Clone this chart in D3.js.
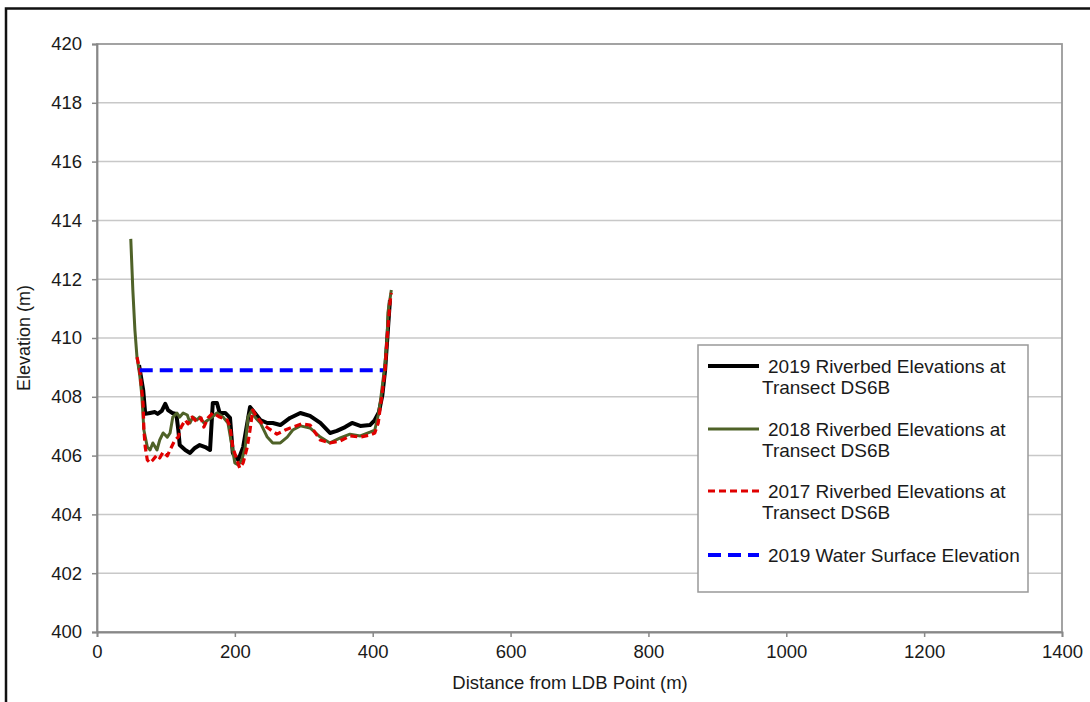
<!DOCTYPE html>
<html>
<head>
<meta charset="utf-8">
<script src="https://cdn.jsdelivr.net/npm/d3@7"></script>
<style>
  html, body { margin: 0; padding: 0; background: #fff; }
  svg { display: block; font-family: "Liberation Sans", Arial, sans-serif; }
</style>
</head>
<body>
<svg id="chart" width="1090" height="702"></svg>
<script>
// Distance from LDB point (m) and riverbed elevation (m) along transect DS6B
const dist2019 = [61, 67, 70, 77, 84, 88, 94, 99, 103, 109, 115, 118, 120, 128, 135, 142, 149, 157, 164, 168, 174, 178, 186, 193, 197, 205, 212, 222, 229, 237, 247, 255, 266, 280, 295, 309, 324, 338, 348, 360, 370, 382, 396, 403, 409, 414, 418, 422, 425];
const elev2019 = [409.08, 408.23, 407.42, 407.45, 407.48, 407.42, 407.52, 407.76, 407.55, 407.45, 407.42, 406.87, 406.36, 406.19, 406.09, 406.26, 406.36, 406.29, 406.19, 407.79, 407.79, 407.45, 407.45, 407.28, 406.09, 405.85, 406.29, 407.65, 407.45, 407.21, 407.11, 407.11, 407.04, 407.28, 407.45, 407.35, 407.11, 406.77, 406.84, 406.97, 407.11, 407.01, 407.04, 407.21, 407.48, 408.06, 408.91, 410.27, 411.29];

const dist2018 = [49, 52, 55, 58, 62, 65, 68, 73, 77, 81, 87, 91, 96, 102, 106, 110, 116, 120, 125, 131, 135, 139, 145, 149, 155, 161, 167, 174, 183, 190, 196, 200, 205, 210, 215, 219, 225, 229, 237, 247, 255, 266, 276, 284, 295, 309, 324, 338, 353, 367, 382, 396, 403, 408, 411, 415, 418, 421, 422, 427];
const elev2018 = [413.37, 411.63, 410.27, 409.35, 408.74, 408.06, 406.87, 406.29, 406.19, 406.43, 406.19, 406.53, 406.77, 406.63, 406.77, 407.31, 407.45, 407.31, 407.45, 407.38, 407.11, 407.31, 407.21, 407.31, 407.11, 407.21, 407.31, 407.45, 407.31, 407.11, 406.29, 405.75, 405.68, 405.85, 406.29, 407.31, 407.55, 407.31, 407.11, 406.63, 406.43, 406.43, 406.63, 406.87, 407.01, 406.94, 406.63, 406.43, 406.60, 406.73, 406.67, 406.80, 406.87, 407.38, 407.82, 408.57, 409.15, 410.03, 410.85, 411.63];

const dist2017 = [58, 62, 65, 67, 68, 70, 73, 77, 81, 87, 91, 96, 102, 106, 113, 118, 122, 128, 132, 138, 145, 151, 155, 161, 168, 178, 189, 193, 197, 203, 207, 212, 218, 222, 226, 232, 239, 248, 261, 273, 284, 297, 309, 324, 338, 353, 367, 382, 396, 403, 408, 413, 418, 421, 425, 427];
const elev2017 = [409.35, 408.91, 408.23, 407.72, 406.87, 406.29, 405.85, 405.75, 405.85, 406.02, 405.92, 406.12, 405.99, 406.19, 406.53, 406.63, 406.97, 407.21, 407.08, 407.31, 407.14, 407.28, 406.97, 407.28, 407.45, 407.31, 407.21, 406.97, 406.29, 405.85, 405.58, 405.75, 406.29, 406.87, 407.55, 407.31, 407.11, 406.94, 406.73, 406.87, 406.97, 407.08, 407.04, 406.53, 406.43, 406.50, 406.67, 406.63, 406.70, 406.77, 407.11, 407.99, 408.91, 410.03, 411.19, 411.53];

// 2019 water surface, flat across the wetted channel
const waterDist = [62, 415];
const waterElev = [408.9, 408.9];

const xTicks = [0, 200, 400, 600, 800, 1000, 1200, 1400];
const yTicks = [400, 402, 404, 406, 408, 410, 412, 414, 416, 418, 420];

const legendLabels = [
  ["2019 Riverbed Elevations at", "Transect DS6B"],
  ["2018 Riverbed Elevations at", "Transect DS6B"],
  ["2017 Riverbed Elevations at", "Transect DS6B"],
  ["2019 Water Surface Elevation"]
];

const svg = d3.select("#chart");
const plot = { left: 97, right: 1062, top: 44, bottom: 632 };

const x = d3.scaleLinear().domain([0, 1400]).range([plot.left, plot.right]);
const y = d3.scaleLinear().domain([400, 420]).range([plot.bottom, plot.top]);

// outer frame
svg.append("rect")
  .attr("x", 6).attr("y", 8.5).attr("width", 1100).attr("height", 720)
  .attr("fill", "none").attr("stroke", "#111").attr("stroke-width", 2.5);

// horizontal gridlines
svg.append("g")
  .selectAll("line").data(yTicks.filter(t => t !== 400 && t !== 420)).join("line")
  .attr("x1", plot.left).attr("x2", plot.right)
  .attr("y1", d => y(d)).attr("y2", d => y(d))
  .attr("stroke", "#c8c8c8").attr("stroke-width", 1.5);

// plot area border
svg.append("rect")
  .attr("x", plot.left).attr("y", plot.top)
  .attr("width", plot.right - plot.left).attr("height", plot.bottom - plot.top)
  .attr("fill", "none").attr("stroke", "#999").attr("stroke-width", 1.8);

// axes
const xAxis = svg.append("g")
  .attr("transform", `translate(0,${plot.bottom})`)
  .call(d3.axisBottom(x).tickValues(xTicks).tickSize(5).tickPadding(8).tickFormat(d3.format("d")));
const yAxis = svg.append("g")
  .attr("transform", `translate(${plot.left},0)`)
  .call(d3.axisLeft(y).tickValues(yTicks).tickSize(5).tickPadding(10).tickFormat(d3.format("d")));

[xAxis, yAxis].forEach(g => {
  g.select(".domain").attr("stroke", "#888").attr("stroke-width", 1.8);
  g.selectAll(".tick line").attr("stroke", "#888").attr("stroke-width", 1.5);
  g.selectAll(".tick text").attr("fill", "#1a1a1a").style("font-size", "18.5px");
});

// axis titles
svg.append("text")
  .attr("x", 570).attr("y", 689)
  .attr("text-anchor", "middle").attr("fill", "#1a1a1a").style("font-size", "18.5px")
  .text("Distance from LDB Point (m)");
svg.append("text")
  .attr("transform", `translate(30,${(plot.top + plot.bottom) / 2}) rotate(-90)`)
  .attr("text-anchor", "middle").attr("fill", "#1a1a1a").style("font-size", "18px")
  .text("Elevation (m)");

const line = d3.line().x(d => x(d[0])).y(d => y(d[1]));
const pairs = (xs, ys) => xs.map((v, i) => [v, ys[i]]);

const series = [
  { data: pairs(dist2019, elev2019), color: "#000000", width: 4, dash: null },
  { data: pairs(dist2018, elev2018), color: "#4f6228", width: 3, dash: null },
  { data: pairs(dist2017, elev2017), color: "#e00000", width: 3.2, dash: "7,4" },
  { data: pairs(waterDist, waterElev), color: "#0000ff", width: 4, dash: "13,7" }
];

svg.append("g")
  .selectAll("path").data(series).join("path")
  .attr("d", s => line(s.data))
  .attr("fill", "none")
  .attr("stroke", s => s.color)
  .attr("stroke-width", s => s.width)
  .attr("stroke-dasharray", s => s.dash)
  .attr("stroke-linejoin", "round");

// legend
const legend = svg.append("g");
legend.append("rect")
  .attr("x", 698).attr("y", 345).attr("width", 330).attr("height", 247)
  .attr("fill", "#fff").attr("stroke", "#999").attr("stroke-width", 1.5);

const rowY = [366, 429, 491, 555];
const entries = legend.selectAll("g").data(series).join("g")
  .attr("transform", (d, i) => `translate(0,${rowY[i]})`);
entries.append("line")
  .attr("x1", 708).attr("x2", 759).attr("y1", 0).attr("y2", 0)
  .attr("stroke", s => s.color)
  .attr("stroke-width", s => s.width)
  .attr("stroke-dasharray", s => s.dash);
entries.each(function (s, i) {
  const g = d3.select(this);
  legendLabels[i].forEach((txt, j) => {
    g.append("text")
      .attr("x", j === 0 ? 768 : 762)
      .attr("y", j * 21.5 + 6.5)
      .attr("fill", "#1a1a1a").style("font-size", "19px")
      .text(txt);
  });
});
</script>
</body>
</html>
